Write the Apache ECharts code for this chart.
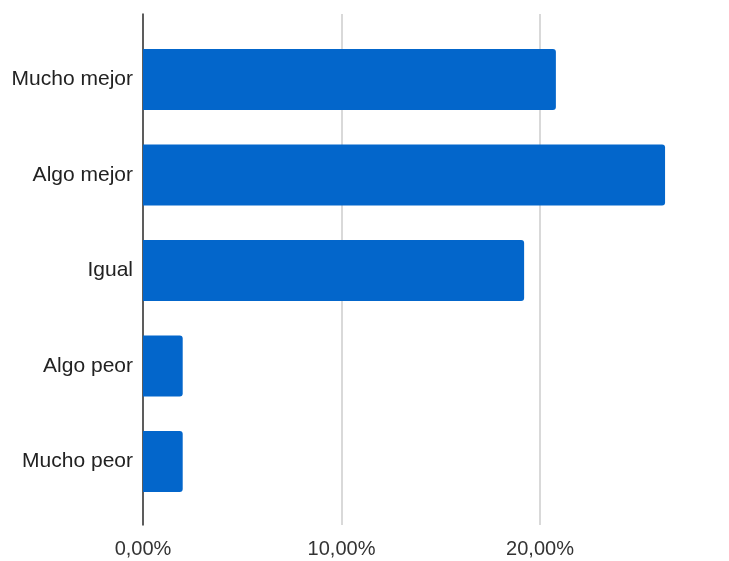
<!DOCTYPE html>
<html>
<head>
<meta charset="utf-8">
<script src="https://cdn.jsdelivr.net/npm/echarts@6/dist/echarts.min.js"></script>
<style>
  html, body { margin: 0; padding: 0; background: #fff; }
  #chart { width: 729px; height: 561px; }
</style>
</head>
<body>
<div id="chart"></div>
<script>
// Answer categories, top to bottom
const categories = ['Mucho mejor', 'Algo mejor', 'Igual', 'Algo peor', 'Mucho peor'];
// Share of answers, in percent
const shares = [20.8, 26.3, 19.2, 2.0, 2.0];
// Percent axis range and step
const axisMin = 0;
const axisMax = 30;
const axisStep = 10;

const fmtPct = v => v.toFixed(2).replace('.', ',') + '%';

const plotLeft = 143;
const plotWidth = 595.5;

const chart = echarts.init(document.getElementById('chart'), null, { renderer: 'canvas' });
chart.setOption({
  animation: false,
  backgroundColor: '#ffffff',
  grid: [
    // frame grid: gridlines, vertical baseline and percent labels
    { left: plotLeft, width: plotWidth, top: 14, bottom: 36, outerBoundsMode: 'none', containLabel: false },
    // bar grid: slightly inset vertically inside the frame
    { left: plotLeft, width: plotWidth, top: 31.75, bottom: 51.75, outerBoundsMode: 'none', containLabel: false }
  ],
  xAxis: [
    {
      gridIndex: 0,
      type: 'value',
      min: axisMin, max: axisMax, interval: axisStep,
      axisLine: { show: false },
      axisTick: { show: false },
      splitLine: { show: true, lineStyle: { color: '#cccccc', width: 1.5 } },
      axisLabel: {
        formatter: fmtPct,
        fontFamily: 'Liberation Sans, Arial, sans-serif',
        fontSize: 20,
        color: '#333333',
        margin: 14,
        showMaxLabel: false
      }
    },
    {
      gridIndex: 1,
      type: 'value',
      min: axisMin, max: axisMax, interval: axisStep,
      show: false
    }
  ],
  yAxis: [
    {
      gridIndex: 0,
      type: 'value',
      min: 0, max: 1,
      axisLine: { show: true, onZero: false, lineStyle: { color: '#333333', width: 1.5 } },
      axisTick: { show: false },
      axisLabel: { show: false },
      splitLine: { show: false }
    },
    {
      gridIndex: 1,
      type: 'category',
      data: categories,
      inverse: true,
      axisLine: { show: false },
      axisTick: { show: false },
      splitLine: { show: false },
      axisLabel: {
        fontFamily: 'Liberation Sans, Arial, sans-serif',
        fontSize: 21,
        color: '#222222',
        margin: 10
      }
    }
  ],
  series: [
    {
      type: 'bar',
      xAxisIndex: 1,
      yAxisIndex: 1,
      data: shares,
      barCategoryGap: '36%',
      itemStyle: { color: '#0366cb', borderRadius: [0, 3, 3, 0] },
      z: 1
    }
  ]
});
</script>
</body>
</html>
